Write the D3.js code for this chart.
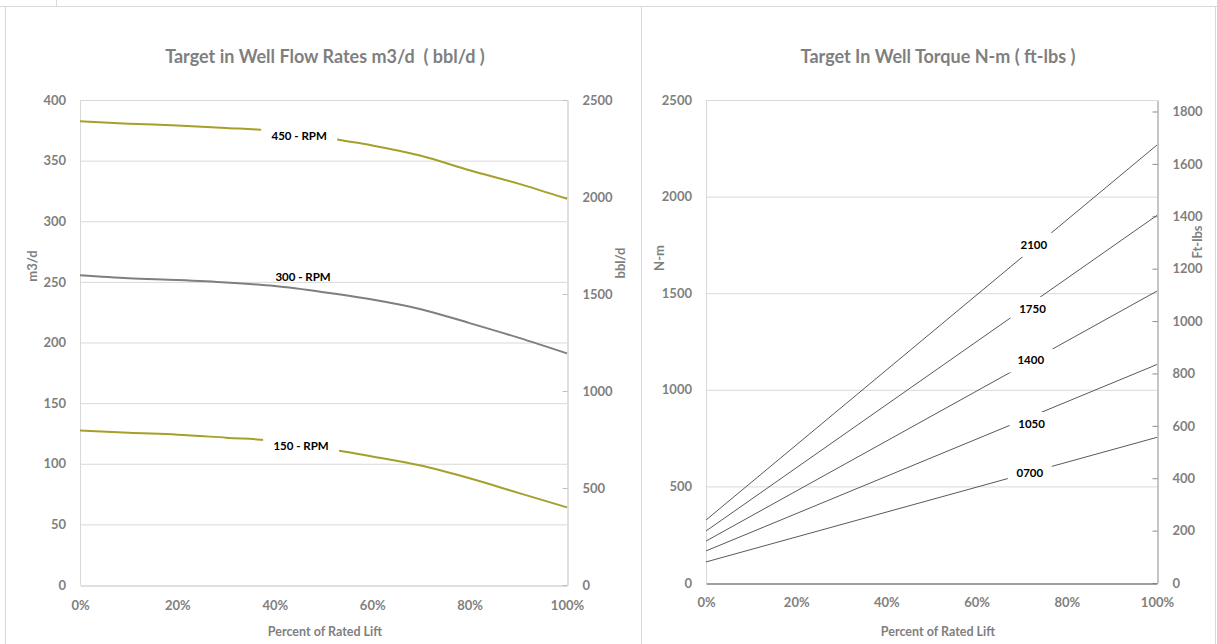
<!DOCTYPE html>
<html>
<head>
<meta charset="utf-8">
<script src="https://cdn.jsdelivr.net/npm/d3@7"></script>
<style>
body{margin:0;background:#fff;}
svg text{font-family:Lato,"Open Sans",sans-serif;font-weight:bold;white-space:pre;}
</style>
</head>
<body>
<svg id="chart" width="1217" height="644"></svg>
<script>
// ---- flow rate chart (left) ----
var lift = [0,10,20,30,40,50,60,70,80,90,100];
var rpm450 = [382.5,380.5,379,377,374.5,369,362.5,354,342,331,318.5];
var rpm300 = [255.5,253,251.5,249.5,246.5,241.5,235.5,227.5,216,204,191];
var rpm150 = [127.5,125.5,124,121.5,119,113,106,98.5,88,76,64];
var flowNames = ["450 - RPM","300 - RPM","150 - RPM"];
var flowColors = ["#a5a02a","#7f7f7f","#a5a02a"];
var flowLabelPos = [[45,370],[45.8,254],[45.4,114.5]];
var flowLabelBg = [true,false,true];
var m3Ticks = [0,50,100,150,200,250,300,350,400];
var bblTicks = [0,500,1000,1500,2000,2500];
var liftTicks = [0,20,40,60,80,100];

// ---- torque chart (right) ----
var torqueLift = [0,100];
var t2100 = [326,2267];
var t1750 = [269,1903];
var t1400 = [217,1511];
var t1050 = [166,1131];
var t0700 = [109,754];
var torqueNames = ["2100","1750","1400","1050","0700"];
var torqueLabelPos = [[72.7,1750],[72.4,1418],[72,1152],[72.2,823],[71.8,571]];
var nmTicks = [0,500,1000,1500,2000,2500];
var ftTicks = [0,200,400,600,800,1000,1200,1400,1600,1800];

var grey = "#7f7f7f";
var fmt = d3.format("d");
var svg = d3.select("#chart");

// panel frames
svg.append("line").attr("x1",0).attr("x2",1217).attr("y1",6.5).attr("y2",6.5).attr("stroke","#d9d9d9");
svg.append("line").attr("x1",56.5).attr("x2",56.5).attr("y1",0).attr("y2",6).attr("stroke","#d9d9d9");
svg.append("rect").attr("x",5.5).attr("y",6.5).attr("width",636).attr("height",660)
  .attr("fill","none").attr("stroke","#d9d9d9");
svg.append("rect").attr("x",641.5).attr("y",6.5).attr("width",574).attr("height",660)
  .attr("fill","none").attr("stroke","#d9d9d9");

function styleAxis(g){
  g.attr("font-family",null).attr("font-size",13).attr("color",grey);
}

// ================= left chart =================
var x = d3.scaleLinear().domain([0,100]).range([80,567]);
var y = d3.scaleLinear().domain([0,400]).range([585,100]);
var y2 = d3.scaleLinear().domain([0,2500]).range([585,100]);

svg.append("g").selectAll("line").data(m3Ticks.slice(1)).enter().append("line")
  .attr("x1",x(0)).attr("x2",x(100))
  .attr("y1",function(d){return y(d)+0.5;}).attr("y2",function(d){return y(d)+0.5;})
  .attr("stroke","#d9d9d9");
svg.append("line").attr("x1",x(0)+0.5).attr("x2",x(0)+0.5).attr("y1",y(400)).attr("y2",y(0))
  .attr("stroke","#d9d9d9");

svg.append("g").attr("transform","translate("+x(0)+",0)")
  .call(d3.axisLeft(y).tickValues(m3Ticks).tickFormat(fmt).tickSize(0).tickPadding(14))
  .call(styleAxis).call(function(g){g.select(".domain").remove();});

svg.append("g").attr("transform","translate("+(x(100)+0.5)+",0)")
  .call(d3.axisRight(y2).tickValues(bblTicks).tickFormat(fmt).tickSizeInner(-5).tickSizeOuter(0).tickPadding(15))
  .call(styleAxis)
  .call(function(g){g.select(".domain").attr("stroke","#bfbfbf");g.selectAll(".tick line").attr("stroke","#bfbfbf");});

svg.append("g").attr("transform","translate(0,"+(y(0)+0.5)+")")
  .call(d3.axisBottom(x).tickValues(liftTicks).tickSize(0).tickPadding(15).tickFormat(function(d){return d+"%";}))
  .call(styleAxis)
  .call(function(g){g.select(".domain").attr("stroke","#bfbfbf");});

var flowLine = d3.line()
  .x(function(d,i){return x(lift[i]);})
  .y(function(d){return y(d);})
  .curve(d3.curveMonotoneX);

[rpm450,rpm300,rpm150].forEach(function(s,i){
  svg.append("path").attr("d",flowLine(s)).attr("fill","none")
    .attr("stroke",flowColors[i]).attr("stroke-width",2);
});

flowNames.forEach(function(name,i){
  var lx = x(flowLabelPos[i][0]), ly = y(flowLabelPos[i][1]);
  if (flowLabelBg[i]) {
    svg.append("rect").attr("x",lx-38).attr("y",ly-11).attr("width",76).attr("height",22).attr("fill","#fff");
  }
  svg.append("text").attr("x",lx).attr("y",ly).attr("dy","0.35em")
    .attr("text-anchor","middle").attr("font-size",11.5).attr("fill","#000").text(name);
});

svg.append("text").attr("x",325).attr("y",63).attr("text-anchor","middle")
  .attr("font-size",18).attr("fill",grey).text("Target in Well Flow Rates m3/d  ( bbl/d )");
svg.append("text").attr("transform","translate(37,266) rotate(-90)").attr("text-anchor","middle")
  .attr("font-size",13).attr("fill",grey).text("m3/d");
svg.append("text").attr("transform","translate(625,263) rotate(-90)").attr("text-anchor","middle")
  .attr("font-size",13).attr("fill",grey).text("bbl/d");
svg.append("text").attr("x",325).attr("y",636).attr("text-anchor","middle")
  .attr("font-size",12.5).attr("fill",grey).text("Percent of Rated Lift");

// ================= right chart =================
var xt = d3.scaleLinear().domain([0,100]).range([706,1157]);
var yt = d3.scaleLinear().domain([0,2500]).range([583,100]);
var yf = d3.scaleLinear().domain([0,2500*0.73756]).range([583,100]);

svg.append("g").selectAll("line").data(nmTicks.slice(1)).enter().append("line")
  .attr("x1",xt(0)).attr("x2",xt(100))
  .attr("y1",function(d){return yt(d)+0.5;}).attr("y2",function(d){return yt(d)+0.5;})
  .attr("stroke","#d9d9d9");
svg.append("line").attr("x1",xt(0)+0.5).attr("x2",xt(0)+0.5).attr("y1",yt(2500)).attr("y2",yt(0))
  .attr("stroke","#d9d9d9");

svg.append("g").attr("transform","translate("+xt(0)+",0)")
  .call(d3.axisLeft(yt).tickValues(nmTicks).tickFormat(fmt).tickSize(0).tickPadding(14))
  .call(styleAxis).call(function(g){g.select(".domain").remove();});

svg.append("g").attr("transform","translate("+(xt(100)+0.5)+",0)")
  .call(d3.axisRight(yf).tickValues(ftTicks).tickFormat(fmt).tickSizeInner(-5).tickSizeOuter(0).tickPadding(15))
  .call(styleAxis)
  .call(function(g){g.select(".domain").attr("stroke","#8c8c8c");g.selectAll(".tick line").attr("stroke","#8c8c8c");});

var torqueLine = d3.line()
  .x(function(d,i){return xt(torqueLift[i]);})
  .y(function(d){return yt(d);});

[t2100,t1750,t1400,t1050,t0700].forEach(function(s){
  svg.append("path").attr("d",torqueLine(s)).attr("fill","none")
    .attr("stroke","#595959").attr("stroke-width",1);
});

svg.append("g").attr("transform","translate(0,"+(yt(0)+0.5)+")")
  .call(d3.axisBottom(xt).tickValues(liftTicks).tickSize(0).tickPadding(14).tickFormat(function(d){return d+"%";}))
  .call(styleAxis)
  .call(function(g){g.select(".domain").attr("stroke","#808080").attr("stroke-width",1.5);});

torqueNames.forEach(function(name,i){
  var lx = xt(torqueLabelPos[i][0]), ly = yt(torqueLabelPos[i][1]);
  svg.append("rect").attr("x",lx-22).attr("y",ly-12).attr("width",44).attr("height",24).attr("fill","#fff");
  svg.append("text").attr("x",lx).attr("y",ly).attr("dy","0.35em")
    .attr("text-anchor","middle").attr("font-size",11.5).attr("fill","#000").text(name);
});

svg.append("text").attr("x",938).attr("y",63).attr("text-anchor","middle")
  .attr("font-size",18).attr("fill",grey).text("Target In Well Torque N-m ( ft-lbs )");
svg.append("text").attr("transform","translate(664,258) rotate(-90)").attr("text-anchor","middle")
  .attr("font-size",13).attr("fill",grey).text("N-m");
svg.append("text").attr("transform","translate(1202,242) rotate(-90)").attr("text-anchor","middle")
  .attr("font-size",13).attr("fill",grey).text("Ft-lbs");
svg.append("text").attr("x",938).attr("y",636).attr("text-anchor","middle")
  .attr("font-size",12.5).attr("fill",grey).text("Percent of Rated Lift");
</script>
</body>
</html>
